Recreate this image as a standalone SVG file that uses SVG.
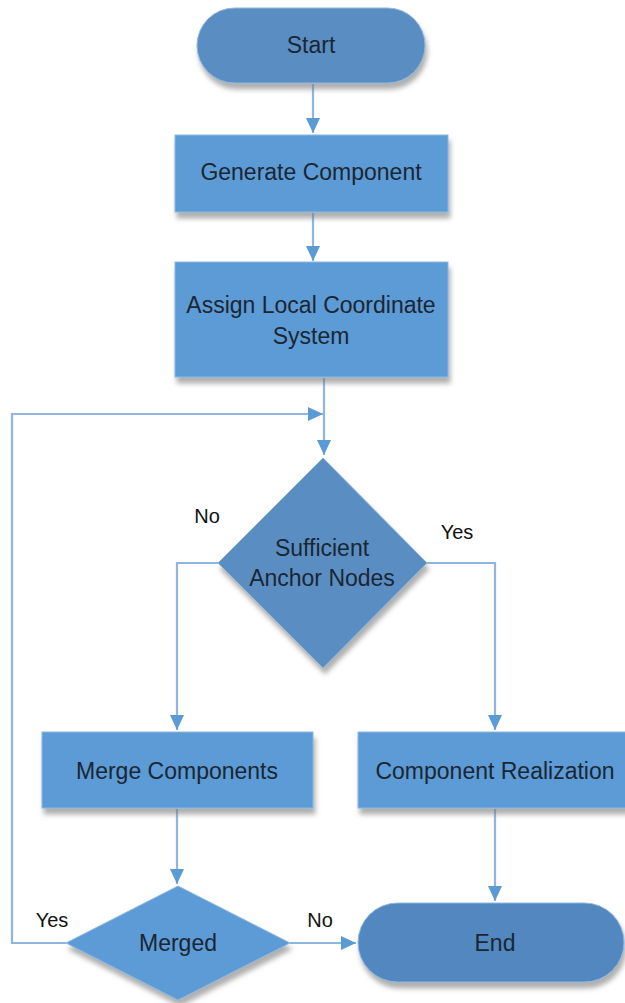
<svg xmlns="http://www.w3.org/2000/svg" width="625" height="1003" viewBox="0 0 625 1003">
<style>
.box{fill:#5B9BD5;stroke:#8DB8E2;stroke-width:1}
.dark{fill:#5A8EC3;stroke:#8DB8E2;stroke-width:1}
.end{fill:#5287BF;stroke:#8DB8E2;stroke-width:1}
.lbl{font-family:"Liberation Sans",Arial,sans-serif;font-size:23px;fill:#1B2633;text-anchor:middle}
.yn{font-family:"Liberation Sans",Arial,sans-serif;font-size:20px;fill:#111;text-anchor:middle}
.conn{fill:none;stroke:#8FB6E0;stroke-width:2.2}
</style>
<defs>
<filter id="sh" x="-20%" y="-20%" width="140%" height="150%">
<feDropShadow dx="2" dy="6" stdDeviation="2.5" flood-color="#7a7a7a" flood-opacity="0.6"/>
</filter>
<marker id="ah" markerUnits="userSpaceOnUse" markerWidth="16" markerHeight="16" viewBox="0 0 16 16" refX="15" refY="8" orient="auto">
<path d="M0,1 L15,8 L0,15 Z" fill="#5B9BD5"/>
</marker>
</defs>
<g id="connectors">
<path class="conn" d="M313 84 L313 133" marker-end="url(#ah)"/>
<path class="conn" d="M313 213 L313 261" marker-end="url(#ah)"/>
<path class="conn" d="M324 378 L324 455" marker-end="url(#ah)"/>
<path class="conn" d="M66 943 L12 943 L12 414 L323 414" marker-end="url(#ah)"/>
<path class="conn" d="M218 563 L177 563 L177 730" marker-end="url(#ah)"/>
<path class="conn" d="M426 563 L495 563 L495 730" marker-end="url(#ah)"/>
<path class="conn" d="M177 809 L177 884" marker-end="url(#ah)"/>
<path class="conn" d="M495 809 L495 901" marker-end="url(#ah)"/>
<path class="conn" d="M290 943 L356 943" marker-end="url(#ah)"/>
</g>
<g id="start">
<rect class="dark" x="197" y="8" width="228" height="75" rx="37.5" filter="url(#sh)"/>
<text class="lbl" x="311" y="53">Start</text>
</g>
<g id="generate">
<rect class="box" x="175" y="135" width="273" height="77" filter="url(#sh)"/>
<text class="lbl" x="311" y="180">Generate Component</text>
</g>
<g id="assign">
<rect class="box" x="175" y="262" width="273" height="115" filter="url(#sh)"/>
<text class="lbl" x="311" y="313">Assign Local Coordinate</text>
<text class="lbl" x="311" y="344">System</text>
</g>
<g id="sufficient">
<polygon class="dark" points="323,458 427,563 323,668 218,563" filter="url(#sh)"/>
<text class="lbl" x="322" y="556">Sufficient</text>
<text class="lbl" x="322" y="586">Anchor Nodes</text>
</g>
<g id="labels">
<text class="yn" x="207" y="523">No</text>
<text class="yn" x="457" y="539">Yes</text>
<text class="yn" x="52" y="927">Yes</text>
<text class="yn" x="320" y="927">No</text>
</g>
<g id="merge">
<rect class="box" x="42" y="732" width="271" height="76" filter="url(#sh)"/>
<text class="lbl" x="177" y="779">Merge Components</text>
</g>
<g id="realization">
<rect class="box" x="358" y="732" width="274" height="76" filter="url(#sh)"/>
<text class="lbl" x="495" y="779">Component Realization</text>
</g>
<g id="merged">
<polygon class="box" points="178,886 290,943 178,1000 66,943" filter="url(#sh)"/>
<text class="lbl" x="178" y="951">Merged</text>
</g>
<g id="end">
<rect class="end" x="358" y="903" width="266" height="79" rx="39.5" filter="url(#sh)"/>
<text class="lbl" x="495" y="951">End</text>
</g>
</svg>
